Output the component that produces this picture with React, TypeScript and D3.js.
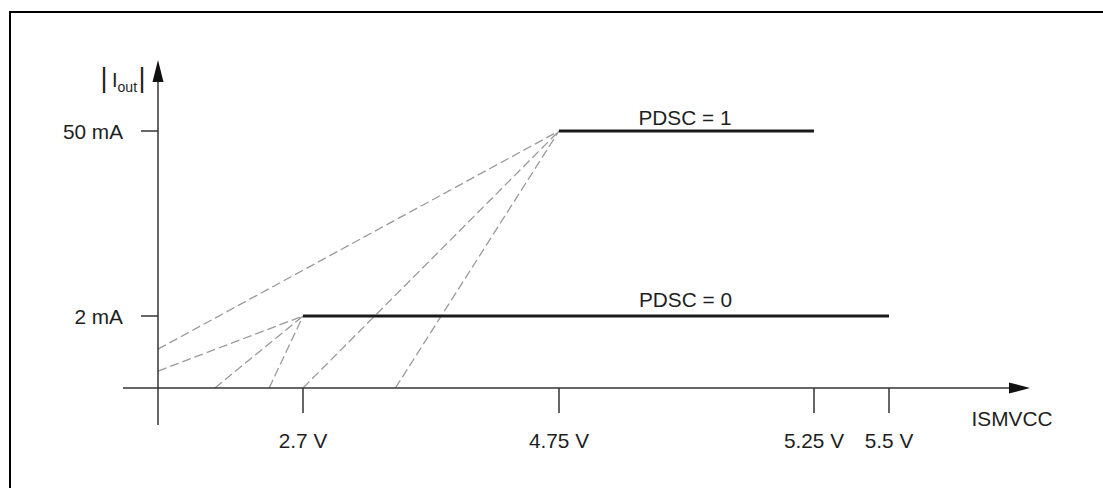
import React from "react";
import * as d3 from "d3";

// ---- data (schematic: supply voltage in V, output current in mA) ----
const xDomainKnots = [0, 2.7, 4.75, 5.25, 5.5];
const yDomainKnots = [0, 2, 50];
const xTicks = [2.7, 4.75, 5.25, 5.5];
const xTickLabels = ["2.7 V", "4.75 V", "5.25 V", "5.5 V"];
const yTicks = [2, 50];
const yTickLabels = ["2 mA", "50 mA"];
const pdsc1Line: [number, number][] = [[4.75, 50], [5.25, 50]];
const pdsc0Line: [number, number][] = [[2.7, 2], [5.5, 2]];
const pdsc1Label = "PDSC = 1";
const pdsc0Label = "PDSC = 0";
// dashed transition paths: start point -> knee point
const dashedTo50: [number, number][] = [[0, 1.08], [2.7, 0], [3.44, 0]];
const dashedTo2: [number, number][] = [[0, 0.47], [1.06, 0], [2.07, 0]];
const xAxisTitle = "ISMVCC";

const W = 1103;
const H = 488;
const FONT = "'Liberation Sans', Arial, Helvetica, sans-serif";
const TEXT = "#1e1e1e";
const AXIS = "#333";
const FS = 20.8;

export default function App() {
  const x = d3.scaleLinear().domain(xDomainKnots).range([158, 303, 559, 814, 889]);
  const y = d3.scaleLinear().domain(yDomainKnots).range([388, 316, 131]);
  const line = d3
    .line<[number, number]>()
    .x((d) => x(d[0]))
    .y((d) => y(d[1]));

  const x0 = x(0);
  const y0 = y(0);
  const xAxisStart = x0 - 35;
  const xAxisEnd = 1030;
  const yAxisTop = 60;
  const yAxisBottom = y0 + 37;

  return (
    <svg
      width={W}
      height={H}
      style={{ position: "absolute", left: 0, top: 0, background: "#fff" }}
      fontFamily={FONT}
    >
      <rect x={0} y={0} width={W} height={H} fill="#fff" />
      {/* frame (only top/left visible) */}
      <rect x={10} y={12} width={W + 20} height={H + 20} fill="none" stroke="#000" strokeWidth={2} />

      {/* dashed transitions */}
      {dashedTo50.map((p, i) => (
        <path
          key={"a" + i}
          d={line([p, [4.75, 50]]) || ""}
          stroke="#9a9a9a"
          strokeWidth={1.3}
          strokeDasharray="9,4"
          fill="none"
        />
      ))}
      {dashedTo2.map((p, i) => (
        <path
          key={"b" + i}
          d={line([p, [2.7, 2]]) || ""}
          stroke="#9a9a9a"
          strokeWidth={1.3}
          strokeDasharray="9,4"
          fill="none"
        />
      ))}

      {/* axes */}
      <line x1={xAxisStart} y1={y0} x2={xAxisEnd - 18} y2={y0} stroke={AXIS} strokeWidth={1.5} />
      <path d={`M${xAxisEnd},${y0} L${xAxisEnd - 21},${y0 - 5.5} L${xAxisEnd - 21},${y0 + 5.5} Z`} fill="#111" />
      <line x1={x0} y1={yAxisBottom} x2={x0} y2={yAxisTop + 18} stroke={AXIS} strokeWidth={1.5} />
      <path d={`M${x0},${yAxisTop} L${x0 - 5.5},${yAxisTop + 22} L${x0 + 5.5},${yAxisTop + 22} Z`} fill="#111" />

      {/* x ticks */}
      {xTicks.map((t, i) => (
        <g key={"xt" + i}>
          <line x1={x(t)} y1={y0} x2={x(t)} y2={y0 + 25} stroke={AXIS} strokeWidth={1.5} />
          <text x={x(t)} y={448} textAnchor="middle" fontSize={FS} fill={TEXT}>
            {xTickLabels[i]}
          </text>
        </g>
      ))}
      {/* y ticks */}
      {yTicks.map((t, i) => (
        <g key={"yt" + i}>
          <line x1={x0 - 17} y1={y(t)} x2={x0} y2={y(t)} stroke={AXIS} strokeWidth={1.5} />
          <text x={123} y={y(t) + 7.5} textAnchor="end" fontSize={FS} fill={TEXT}>
            {yTickLabels[i]}
          </text>
        </g>
      ))}

      {/* solid characteristic lines */}
      <path d={line(pdsc1Line) || ""} stroke="#1a1a1a" strokeWidth={3} fill="none" />
      <path d={line(pdsc0Line) || ""} stroke="#1a1a1a" strokeWidth={3} fill="none" />
      <text x={685} y={y(50) - 6.5} textAnchor="middle" fontSize={FS} fill={TEXT}>
        {pdsc1Label}
      </text>
      <text x={685.5} y={y(2) - 9} textAnchor="middle" fontSize={FS} fill={TEXT}>
        {pdsc0Label}
      </text>

      {/* axis titles */}
      <text x={1012} y={426} textAnchor="middle" fontSize={FS} fill={TEXT}>
        {xAxisTitle}
      </text>
      <text x={104} y={87} textAnchor="middle" fontSize={27} fill={TEXT}>|</text>
      <text x={112} y={87} fontSize={20} fill={TEXT}>
        I<tspan fontSize={14} dy={5}>out</tspan>
      </text>
      <text x={142} y={87} textAnchor="middle" fontSize={27} fill={TEXT}>|</text>
    </svg>
  );
}
